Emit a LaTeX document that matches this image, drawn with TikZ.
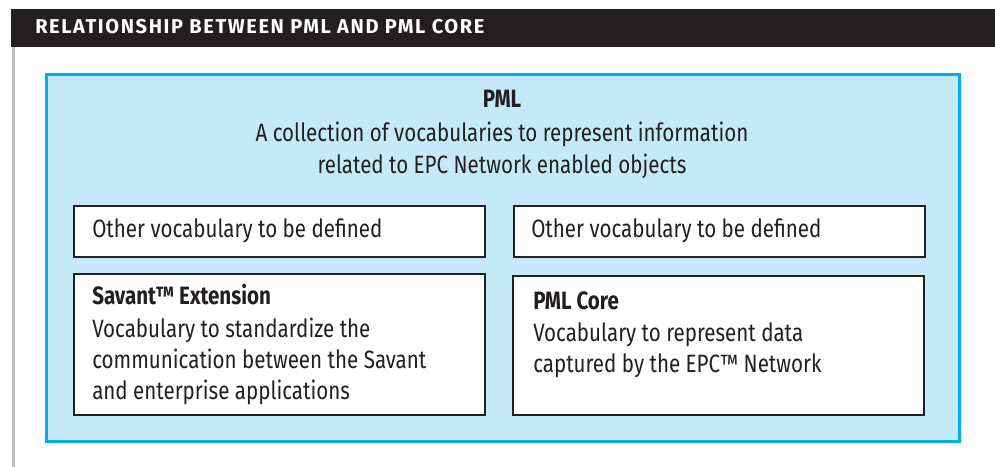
\documentclass[tikz,border=0pt]{standalone}
\usepackage{fontspec}
\setmainfont{Fira Sans}[FakeStretch=0.82]
\newfontfamily\hdfont{Fira Sans Bold}[LetterSpace=8]
\definecolor{ink}{HTML}{231F20}
\definecolor{cyanline}{HTML}{00AEEF}
\definecolor{cyanfill}{HTML}{C6E9F8}
\definecolor{rulegray}{HTML}{BEBEBE}
\tikzset{
  px/.style={x=0.75pt,y=-0.75pt},
  vocabbox/.style={draw=ink,fill=white,line width=1.6pt},
  bodytext/.style={inner sep=0pt,anchor=base west,text=ink,font=\fontsize{18.8}{22}\selectfont},
  centertext/.style={inner sep=0pt,anchor=base,text=ink,font=\fontsize{18.8}{22}\selectfont},
  boldtext/.style={font=\bfseries\fontsize{18.8}{22}\selectfont},
}
\begin{document}
\begin{tikzpicture}[px]
\useasboundingbox (0,0) rectangle (995,467);
% header
\fill[ink] (11,9) rectangle (995,47);
\node[inner sep=0pt,anchor=base west,text=white,font=\hdfont\fontsize{15}{18}\selectfont] (title) at (35,34) {RELATIONSHIP BETWEEN PML AND PML CORE};
% side rule
\draw[rulegray,line width=2.25pt] (13,47) -- (13,467);
% PML container
\draw[cyanline,fill=cyanfill,line width=2.25pt] (46.5,74.5) rectangle (959.5,441.5);
\node[centertext,boldtext] (pml) at (502,108) {PML};
\node[centertext] (pmlA) at (502,141) {A collection of vocabularies to represent information};
\node[centertext] (pmlB) at (502,173) {related to EPC Network enabled objects};
% boxes
\draw[vocabbox] (74,206) rectangle (485,257);
\draw[vocabbox] (514,206) rectangle (925,257);
\draw[vocabbox] (74,274) rectangle (485,415);
\draw[vocabbox] (513,276) rectangle (924,415);
% texts
\node[bodytext] (o1) at (92,237) {Other vocabulary to be defined};
\node[bodytext] (o2) at (531,237) {Other vocabulary to be defined};
\node[bodytext,boldtext] (sv) at (92,304) {Savant™ Extension};
\node[bodytext] (sv1) at (92,337) {Vocabulary to standardize the};
\node[bodytext] (sv2) at (92,368) {communication between the Savant};
\node[bodytext] (sv3) at (92,399) {and enterprise applications};
\node[bodytext,boldtext] (pc) at (533,309) {PML Core};
\node[bodytext] (pc1) at (533,341) {Vocabulary to represent data};
\node[bodytext] (pc2) at (533,372) {captured by the EPC™ Network};
\end{tikzpicture}
\end{document}
